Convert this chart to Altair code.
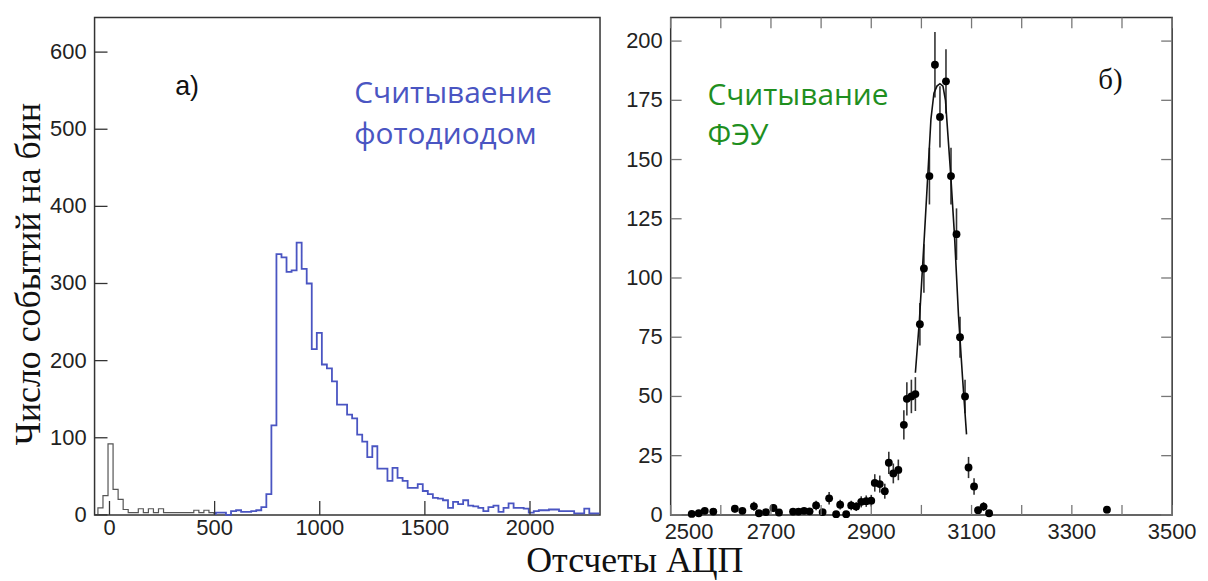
import altair as alt
import pandas as pd
import numpy as np

# ---------------- data: left panel (photodiode readout) ----------------
BIN_W = 24
ped_start = -55
ped_counts = [9, 25, 92, 33, 20, 7, 3, 3, 8, 3, 8, 3, 8, 3, 3, 3, 3, 3, 3, 6, 3, 6, 3]
pd_start = 506
pd_counts = [3, 3, 0, 5, 6, 4, 4, 5, 6, 10, 27, 116, 338, 334, 315, 317, 353, 319, 300,
             215, 236, 195, 190, 173, 143, 143, 130, 125, 104, 95, 75, 89, 60, 60, 44, 61,
             48, 44, 35, 35, 40, 31, 27, 22, 21, 19, 9, 17, 14, 19, 12, 11, 9, 5, 10, 12,
             4, 9, 15, 9, 9, 8, 3, 5, 6, 6, 7, 7, 5, 5, 5, 2, 2, 8, 2, 2]

# ---------------- data: right panel (PMT readout) ----------------
pmt_x = [2542, 2556, 2568, 2585, 2628, 2643, 2666, 2676, 2690, 2705, 2716, 2744, 2755,
         2766, 2777, 2790, 2803, 2816, 2830, 2838, 2850, 2860, 2870, 2880, 2890, 2900,
         2907, 2917, 2927, 2935, 2944, 2954, 2965, 2971, 2980, 2988, 2997, 3005, 3016,
         3027, 3037, 3049, 3059, 3070, 3077, 3087, 3094, 3105, 3113, 3124, 3135, 3370]
pmt_y = [0.4, 0.7, 1.7, 1.4, 2.6, 1.7, 3.6, 0.7, 1.2, 2.9, 1.0, 1.4, 1.4,
         1.7, 1.5, 4.0, 1.2, 7.0, 0.3, 4.3, 0.3, 4.0, 3.5, 5.5, 5.8, 6.0,
         13.5, 13.0, 10.0, 22.0, 17.5, 19.0, 38.0, 49.0, 50.0, 51.0, 80.5, 104.0, 143.0,
         190.0, 168.0, 183.0, 143.0, 118.5, 75.0, 50.0, 20.0, 12.0, 2.0, 3.5, 0.7, 2.2]
fit_x = [2988, 2996, 3006, 3014, 3019, 3025, 3031, 3037, 3043, 3048, 3053, 3058, 3066, 3074, 3082, 3090]
fit_y = [60, 82, 118, 148, 167, 178, 181, 182, 181, 175, 160, 145, 118, 84, 58, 34]

# ---------------- tick labels / titles ----------------
left_xticks = [0, 500, 1000, 1500, 2000]
left_yticks = [0, 100, 200, 300, 400, 500, 600]
right_xticks = list(range(2500, 3501, 100))
right_xlabels = [2500, 2700, 2900, 3100, 3300, 3500]
right_yticks = list(range(0, 201, 25))
x_title = "Отсчеты АЦП"
y_title = "Число событий на бин"


def step_frame(start, counts, close):
    xs = [start] + [start + BIN_W * i for i in range(len(counts))] + [start + BIN_W * len(counts)]
    ys = [0] + list(counts) + [counts[-1]]
    if close:
        xs.append(xs[-1])
        ys.append(0)
    return pd.DataFrame({"x": xs, "y": ys, "i": list(range(len(xs)))})


ped_df = step_frame(ped_start, ped_counts, True)
pd_df = step_frame(pd_start, pd_counts, False)

pmt_df = pd.DataFrame({"x": pmt_x, "y": pmt_y})
err = np.sqrt(pmt_df["y"])
pmt_df["lo"] = np.maximum(pmt_df["y"] - err, 0)
pmt_df["hi"] = pmt_df["y"] + err
fit_df = pd.DataFrame({"x": fit_x, "y": fit_y})

W_L, W_R, H = 508, 504, 500
LBL_FONT = "Liberation Sans"
SERIF = "Liberation Serif"
ANN_FONT = "Open Sans"
BLUE = "#4a55c2"
GREEN = "#1f8f1f"
LBL = dict(font=LBL_FONT, fontSize=22, color="#222")

# ---------------- left panel ----------------
xsL = alt.Scale(domain=[-71, 2333], nice=False, zero=False)
ysL = alt.Scale(domain=[0, 645], nice=False, zero=False)

black_hist = alt.Chart(ped_df).mark_line(interpolate="step-after", color="#555", strokeWidth=1.2).encode(
    x=alt.X("x:Q", scale=xsL, axis=None),
    y=alt.Y("y:Q", scale=ysL, axis=None),
    order="i:Q",
)
blue_hist = alt.Chart(pd_df).mark_line(interpolate="step-after", color=BLUE, strokeWidth=1.8).encode(
    x=alt.X("x:Q", scale=xsL, axis=None),
    y=alt.Y("y:Q", scale=ysL, axis=None),
    order="i:Q",
)
txL = pd.DataFrame({"v": left_xticks})
tyL = pd.DataFrame({"v": left_yticks})
ticks_xL = alt.Chart(txL).mark_rule(color="#333", strokeWidth=1.3).encode(
    x=alt.X("v:Q", scale=xsL, axis=None), y=alt.value(H), y2=alt.value(H - 14))
ticks_yL = alt.Chart(tyL).mark_rule(color="#333", strokeWidth=1.3).encode(
    y=alt.Y("v:Q", scale=ysL, axis=None), x=alt.value(0), x2=alt.value(13))
xlab_L = alt.Chart(txL).mark_text(align="center", baseline="top", dy=3, **LBL).encode(
    x=alt.X("v:Q", scale=xsL, axis=None), y=alt.value(H), text=alt.Text("v:Q", format="d"))
ylab_L = alt.Chart(tyL).mark_text(align="right", baseline="middle", dx=-8, **LBL).encode(
    y=alt.Y("v:Q", scale=ysL, axis=None), x=alt.value(0), text=alt.Text("v:Q", format="d"))
ytitle = alt.Chart(pd.DataFrame({"t": [y_title]})).mark_text(
    font=SERIF, fontSize=36, color="#111", angle=270, align="center", baseline="middle").encode(
    text="t:N", x=alt.value(-66), y=alt.value(258))
xtitle = alt.Chart(pd.DataFrame({"t": [x_title]})).mark_text(
    font=SERIF, fontSize=36, color="#111", align="center", baseline="middle").encode(
    text="t:N", x=alt.value(543), y=alt.value(546))
lab_a = alt.Chart(pd.DataFrame({"t": ["а)"]})).mark_text(
    font=LBL_FONT, fontSize=27, color="#111", align="center", baseline="alphabetic").encode(
    text="t:N", x=alt.value(93), y=alt.value(78))
lab_pd = alt.Chart(pd.DataFrame({"t": ["Считываение\nфотодиодом"]})).mark_text(
    font=ANN_FONT, fontSize=30, color=BLUE, align="left", baseline="alphabetic",
    lineBreak="\n", lineHeight=41).encode(
    text="t:N", x=alt.value(261), y=alt.value(86))

left = alt.layer(black_hist, blue_hist, ticks_xL, ticks_yL, xlab_L, ylab_L,
                 ytitle, xtitle, lab_a, lab_pd).properties(width=W_L, height=H)

# ---------------- right panel ----------------
xsR = alt.Scale(domain=[2500, 3500], nice=False, zero=False)
ysR = alt.Scale(domain=[0, 210], nice=False, zero=False)

errbars = alt.Chart(pmt_df).mark_rule(color="#333", strokeWidth=1.6).encode(
    x=alt.X("x:Q", scale=xsR, axis=None),
    y=alt.Y("lo:Q", scale=ysR, axis=None),
    y2="hi:Q",
)
fit_line = alt.Chart(fit_df).mark_line(color="#111", strokeWidth=1.6).encode(
    x=alt.X("x:Q", scale=xsR, axis=None),
    y=alt.Y("y:Q", scale=ysR, axis=None),
)
points = alt.Chart(pmt_df).mark_circle(color="#000", opacity=1, size=62).encode(
    x=alt.X("x:Q", scale=xsR, axis=None),
    y=alt.Y("y:Q", scale=ysR, axis=None),
)
tx = pd.DataFrame({"v": right_xticks})
ty = pd.DataFrame({"v": right_yticks})
ticks_xb = alt.Chart(tx).mark_rule(color="#777", strokeWidth=1.3).encode(
    x=alt.X("v:Q", scale=xsR, axis=None), y=alt.value(H), y2=alt.value(H - 10))
ticks_xt = alt.Chart(tx).mark_rule(color="#777", strokeWidth=1.3).encode(
    x=alt.X("v:Q", scale=xsR, axis=None), y=alt.value(0), y2=alt.value(11))
ticks_yl = alt.Chart(ty).mark_rule(color="#777", strokeWidth=1.3).encode(
    y=alt.Y("v:Q", scale=ysR, axis=None), x=alt.value(0), x2=alt.value(11))
ticks_yr = alt.Chart(ty).mark_rule(color="#777", strokeWidth=1.3).encode(
    y=alt.Y("v:Q", scale=ysR, axis=None), x=alt.value(W_R), x2=alt.value(W_R - 11))
xlab_R_first = alt.Chart(pd.DataFrame({"v": right_xlabels[:1]})).mark_text(
    align="left", baseline="top", dy=7, dx=-6, **LBL).encode(
    x=alt.X("v:Q", scale=xsR, axis=None), y=alt.value(H), text=alt.Text("v:Q", format="d"))
xlab_R = alt.Chart(pd.DataFrame({"v": right_xlabels[1:]})).mark_text(
    align="center", baseline="top", dy=7, **LBL).encode(
    x=alt.X("v:Q", scale=xsR, axis=None), y=alt.value(H), text=alt.Text("v:Q", format="d"))
ylab_R = alt.Chart(ty).mark_text(align="right", baseline="middle", dx=-8, **LBL).encode(
    y=alt.Y("v:Q", scale=ysR, axis=None), x=alt.value(0), text=alt.Text("v:Q", format="d"))
lab_b = alt.Chart(pd.DataFrame({"t": ["б)"]})).mark_text(
    font=SERIF, fontSize=29, color="#111", align="center", baseline="alphabetic").encode(
    text="t:N", x=alt.value(442), y=alt.value(72))
lab_pmt = alt.Chart(pd.DataFrame({"t": ["Считывание\n\u00a0ФЭУ"]})).mark_text(
    font=ANN_FONT, fontSize=30, color=GREEN, align="left", baseline="alphabetic",
    lineBreak="\n", lineHeight=40).encode(
    text="t:N", x=alt.value(37), y=alt.value(88))

right = alt.layer(errbars, fit_line, points, ticks_xb, ticks_xt, ticks_yl, ticks_yr,
                  xlab_R_first, xlab_R, ylab_R, lab_b, lab_pmt).properties(width=W_R, height=H)

chart = alt.hconcat(left, right, spacing=71, bounds="flush").properties(
    padding={"left": 2, "top": 6, "right": 2, "bottom": 1},
    background="white",
).configure_view(stroke="#333", strokeWidth=1.5)

chart.save("out.html", embed_options={"renderer": "svg", "actions": False})
